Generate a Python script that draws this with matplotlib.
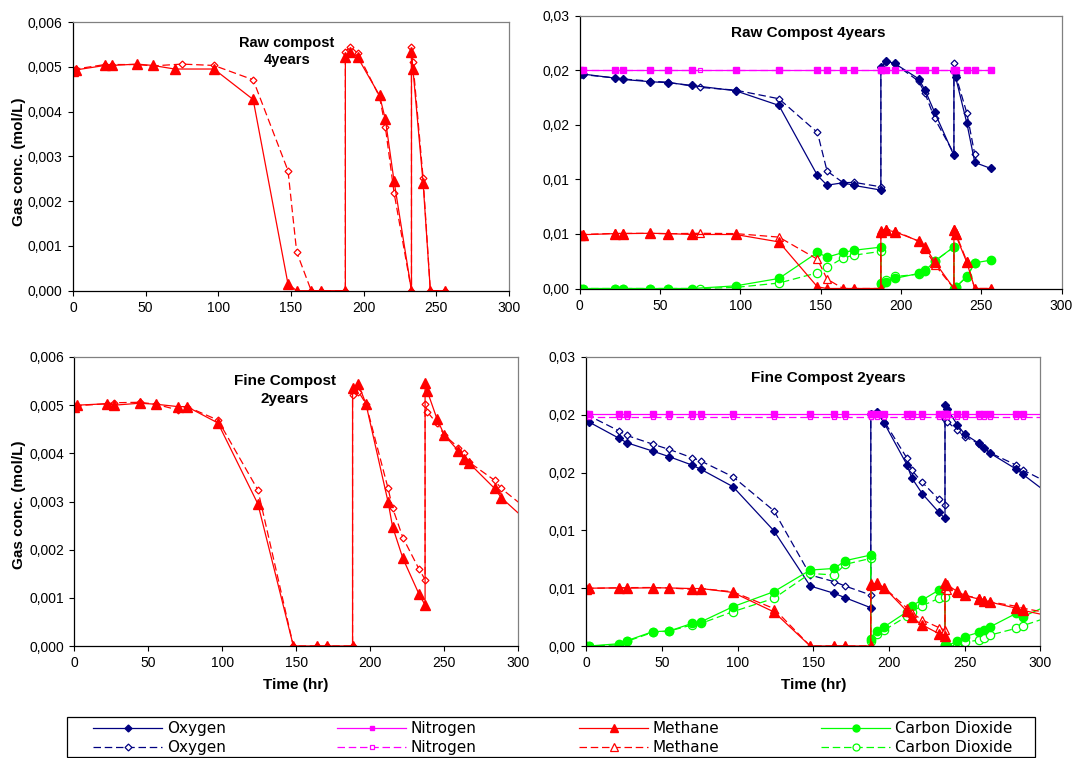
import numpy as np
import matplotlib
matplotlib.use("Agg")
import matplotlib.pyplot as plt
from matplotlib.lines import Line2D
from matplotlib.patches import Rectangle

plt.rcParams['font.family'] = ['Liberation Sans', 'DejaVu Sans']

# ---- raw compost 4 years (time in hr) ----
t_raw = [0, 2, 22, 27, 44, 55, 70, 97, 124, 148, 154, 164, 171, 187.5, 187.5,
         191, 196, 211, 215, 221, 233, 233, 234, 241, 246, 256]
t_raw2 = [0, 2, 22, 27, 44, 55, 75, 97, 124, 148, 154, 164, 171, 187.5, 187.5,
          191, 196, 211, 215, 221, 233, 233, 234, 241, 246, 256]

ch4_raw = [0.0049, 0.00493, 0.00503, 0.00503, 0.00506, 0.00503, 0.00495, 0.00495,
           0.00427, 0.00015, 0, 0, 0, 0, 0.00521, 0.00534, 0.00521, 0.00436,
           0.00383, 0.00245, 0, 0.00534, 0.00495, 0.00241, 0, 0]
ch4_raw2 = [0.00493, 0.00495, 0.00505, 0.00505, 0.00505, 0.00502, 0.00506, 0.00503,
            0.00471, 0.00268, 0.00086, 0, 0, 0, 0.00534, 0.00545, 0.0053, 0.00433,
            0.00366, 0.00219, 0, 0.00545, 0.0051, 0.00252, 0, 0]
o2_raw = [0.0199, 0.01965, 0.01928, 0.01916, 0.01895, 0.01886, 0.01861, 0.01812,
          0.01678, 0.01036, 0.00947, 0.00969, 0.00944, 0.00902, 0.02026, 0.02084,
          0.02063, 0.01922, 0.01818, 0.01614, 0.0122, 0.0199, 0.0194, 0.01519,
          0.01155, 0.011]
o2_raw2 = [0.0196, 0.0196, 0.0193, 0.0192, 0.019, 0.0189, 0.01843, 0.01818,
           0.01739, 0.0143, 0.01076, 0.0097, 0.00972, 0.00932, 0.0203, 0.0208,
           0.0206, 0.019, 0.01788, 0.01559, 0.01235, 0.0207, 0.0196, 0.0161,
           0.01229, np.nan]
n2_raw = [0.0200, 0.0200, 0.0200, 0.0200, 0.0200, 0.0200, 0.0200, 0.0200, 0.0200,
          0.0200, 0.0200, 0.0200, 0.0200, 0.0200, 0.0200, 0.0200, 0.0200, 0.0200,
          0.0200, 0.0200, 0.0200, 0.0200, 0.0200, 0.0200, 0.0200, 0.0200]
n2_raw2 = [0.0200, 0.0200, 0.0200, 0.0200, 0.0200, 0.0200, 0.0200, 0.0200, 0.0200,
           0.0200, 0.0200, 0.0200, 0.0200, 0.0200, 0.0200, 0.0200, 0.0200, 0.0200,
           0.0200, 0.0200, 0.0200, 0.0200, 0.0200, 0.0200, 0.0200, 0.0200]
co2_raw = [0, 0, 0, 0, 0, 0, 0, 0.00024, 0.00092, 0.0033, 0.00287, 0.0033, 0.00351,
           0.00379, 0.00037, 0.00061, 0.00092, 0.00138, 0.00162, 0.0025, 0.00382,
           0, 0.0001, 0.00107, 0.00235, 0.0026]
co2_raw2 = [0, 0, 0, 0, 0, 0, 0, 0.0001, 0.0005, 0.00144, 0.00193, 0.0028, 0.00306,
            0.0034, 0.0005, 0.0008, 0.0011, 0.0013, 0.0017, 0.0025, 0.0038, 0,
            0.0001, 0.0011, 0.0023, np.nan]

# ---- fine compost 2 years ----
t_fine = [0, 2, 22, 27, 44, 55, 70, 76, 97, 124, 148, 164, 171, 188, 188, 192, 197,
          212, 215, 222, 233, 237, 237, 238.5, 245, 250, 259.5, 263, 267, 284,
          288.5, 310]

ch4_fine = [0.00497, 0.005, 0.00503, 0.005, 0.00504, 0.00502, 0.00497, 0.00497,
            0.00463, 0.00295, 0, 0, 0, 0, 0.00535, 0.00543, 0.00503, 0.00299,
            0.00248, 0.00182, 0.00107, 0.00085, 0.00546, 0.00529, 0.00472, 0.00438,
            0.00405, 0.00389, 0.00379, 0.00327, 0.00308, 0.00248]
ch4_fine2 = [0.00497, 0.00499, 0.00503, 0.00505, 0.00506, 0.00502, 0.0049, 0.00497,
             0.00469, 0.00324, 0, 0, 0, 0, 0.00521, 0.00528, 0.00503, 0.00327,
             0.00287, 0.00225, 0.00159, 0.00138, 0.00503, 0.00486, 0.00462, 0.00438,
             0.00412, 0.004, 0.00381, 0.00344, 0.00327, 0.00274]
o2_fine = [0.01968, 0.01937, 0.01795, 0.01758, 0.01686, 0.01637, 0.01565, 0.01527,
           0.01378, 0.00997, 0.00519, 0.00455, 0.00418, 0.00331, 0.0201, 0.02026,
           0.01925, 0.01565, 0.01455, 0.01317, 0.01156, 0.01104, 0.02084, 0.02049,
           0.01916, 0.01833, 0.01752, 0.01709, 0.01666, 0.0153, 0.01484, 0.0127]
o2_fine2 = [0.02003, 0.01991, 0.01859, 0.01821, 0.01746, 0.017, 0.01628, 0.01599,
            0.01464, 0.0117, 0.00614, 0.00556, 0.00519, 0.00441, 0.02003, 0.0202,
            0.0194, 0.01622, 0.01522, 0.01415, 0.01268, 0.01219, 0.01963, 0.0194,
            0.01867, 0.0181, 0.0175, 0.0171, 0.0167, 0.01565, 0.01522, 0.0138]
n2_fine = [0.0201, 0.0201, 0.0201, 0.0201, 0.0201, 0.0201, 0.0201, 0.0201, 0.0201,
           0.0201, 0.0201, 0.0201, 0.0201, 0.0201, 0.0201, 0.0201, 0.0201, 0.0201,
           0.0201, 0.0201, 0.0201, 0.0201, 0.0201, 0.0201, 0.0201, 0.0201, 0.0201,
           0.0201, 0.0201, 0.0201, 0.0201, 0.0201]
n2_fine2 = [0.0198, 0.0198, 0.0198, 0.0198, 0.0198, 0.0198, 0.0198, 0.0198, 0.0198,
            0.0198, 0.0198, 0.0198, 0.0198, 0.0198, 0.0198, 0.0198, 0.0198, 0.0198,
            0.0198, 0.0198, 0.0198, 0.0198, 0.0198, 0.0198, 0.0198, 0.0198, 0.0198,
            0.0198, 0.0198, 0.0198, 0.0198, 0.0198]
co2_fine = [0, 0, 0.0002, 0.00046, 0.00124, 0.0013, 0.00196, 0.0021, 0.0034, 0.0047,
            0.00657, 0.00671, 0.00738, 0.00787, 0.0006, 0.0013, 0.00167, 0.00297,
            0.00349, 0.00398, 0.00484, 0.00499, 0.00009, 0, 0.00043, 0.00081,
            0.00118, 0.00138, 0.00167, 0.00282, 0.00254, 0.0038]
co2_fine2 = [0, 0, 0.0001, 0.0004, 0.00118, 0.0013, 0.00182, 0.00196, 0.00297,
             0.00412, 0.00628, 0.00614, 0.00706, 0.00758, 0.00046, 0.001, 0.00138,
             0.00259, 0.00297, 0.00349, 0.00412, 0.00427, 0.0001, 0, 0, 0.00032,
             0.00052, 0.00072, 0.00095, 0.00153, 0.00176, 0.0027]

left_ticks = [0, 0.001, 0.002, 0.003, 0.004, 0.005, 0.006]
left_labels = ['0,000', '0,001', '0,002', '0,003', '0,004', '0,005', '0,006']
right_ticks = [0, 0.005, 0.01, 0.015, 0.02, 0.025]
right_labels = ['0,00', '0,01', '0,01', '0,02', '0,02', '0,03']
x_ticks = [0, 50, 100, 150, 200, 250, 300]

NAVY = '#000080'
MAG = '#FF00FF'
RED = '#FF0000'
GRN = '#00FF00'
DASH = (0, (6, 3))
LW = 0.9

W, H = 1076, 758
fig = plt.figure(figsize=(W / 100, H / 100), dpi=100)


def add_ax(l, r, t, b):
    return fig.add_axes([l / W, 1 - b / H, (r - l) / W, (b - t) / H])


def style(ax, ticks, labels, ymax):
    ax.set_xlim(0, 300)
    ax.set_ylim(0, ymax)
    ax.set_xticks(x_ticks)
    ax.set_yticks(ticks)
    ax.set_yticklabels(labels)
    for s in ['top', 'right']:
        ax.spines[s].set_color('#808080')
    for s in ['left', 'bottom']:
        ax.spines[s].set_color('black')
    for s in ax.spines.values():
        s.set_linewidth(0.9)
    ax.tick_params(direction='out', length=3.5, width=0.8, labelsize=10, pad=4)


def methane(ax, t1, y1, t2, y2, open_tri):
    m2 = '^' if open_tri else 'D'
    ms2 = 6 if open_tri else 3.5
    ax.plot(t2, y2, color=RED, lw=LW, linestyle=DASH, marker=m2, ms=ms2,
            mfc='white', mec=RED, mew=0.9)
    ax.plot(t1, y1, color=RED, lw=LW, marker='^', ms=7.5, mfc=RED, mec=RED)


def gases(ax, t1, t2, o1, o2, n1, n2, c1, c2):
    ax.plot(t2, o2, color=NAVY, lw=LW, linestyle=DASH, marker='D', ms=3.5,
            mfc='white', mec=NAVY, mew=0.9)
    ax.plot(t1, o1, color=NAVY, lw=LW, marker='D', ms=4, mfc=NAVY, mec=NAVY)
    ax.plot(t2, n2, color=MAG, lw=LW, linestyle=DASH, marker='s', ms=3.5,
            mfc='white', mec=MAG, mew=0.9)
    ax.plot(t1, n1, color=MAG, lw=LW, marker='s', ms=4, mfc=MAG, mec=MAG)
    ax.plot(t2, c2, color=GRN, lw=LW, linestyle=DASH, marker='o', ms=6,
            mfc='white', mec=GRN, mew=0.9)
    ax.plot(t1, c1, color=GRN, lw=LW, marker='o', ms=6, mfc=GRN, mec=GRN)


# top-left
ax1 = add_ax(73, 508.8, 22, 290.7)
methane(ax1, t_raw, ch4_raw, t_raw2, ch4_raw2, False)
style(ax1, left_ticks, left_labels, 0.006)
ax1.text(0.491, 0.89, 'Raw compost\n4years', transform=ax1.transAxes,
         ha='center', va='center', fontsize=10.5, fontweight='bold', linespacing=1.3)

# top-right
ax2 = add_ax(579.8, 1061.5, 15.7, 288.5)
gases(ax2, t_raw, t_raw2, o2_raw, o2_raw2, n2_raw, n2_raw2, co2_raw, co2_raw2)
methane(ax2, t_raw, ch4_raw, t_raw2, ch4_raw2, True)
style(ax2, right_ticks, right_labels, 0.025)
ax2.text(0.4735, 0.935, 'Raw Compost 4years', transform=ax2.transAxes,
         ha='center', va='center', fontsize=11, fontweight='bold')

# bottom-left
ax3 = add_ax(74.4, 518.3, 357, 646)
methane(ax3, t_fine, ch4_fine, t_fine, ch4_fine2, False)
style(ax3, left_ticks, left_labels, 0.006)
ax3.text(0.474, 0.886, 'Fine Compost\n2years', transform=ax3.transAxes,
         ha='center', va='center', fontsize=11, fontweight='bold', linespacing=1.3)

# bottom-right
ax4 = add_ax(586.1, 1040.4, 357, 646)
gases(ax4, t_fine, t_fine, o2_fine, o2_fine2, n2_fine, n2_fine2, co2_fine, co2_fine2)
methane(ax4, t_fine, ch4_fine, t_fine, ch4_fine2, True)
style(ax4, right_ticks, right_labels, 0.025)
ax4.text(0.533, 0.928, 'Fine Compost 2years', transform=ax4.transAxes,
         ha='center', va='center', fontsize=11, fontweight='bold')

# axis titles
fig.text(19.3 / W, 1 - 161.7 / H, 'Gas conc. (mol/L)', rotation=90, ha='center',
         va='center', fontsize=11, fontweight='bold')
fig.text(19.3 / W, 1 - 505 / H, 'Gas conc. (mol/L)', rotation=90, ha='center',
         va='center', fontsize=11, fontweight='bold')
fig.text(295.8 / W, 1 - 685 / H, 'Time (hr)', ha='center', va='center',
         fontsize=11, fontweight='bold')
fig.text(813.8 / W, 1 - 685 / H, 'Time (hr)', ha='center', va='center',
         fontsize=11, fontweight='bold')

# legend: box + four columns
fig.patches.append(Rectangle((67 / W, 1 - 757 / H), (1035 - 67) / W, (757 - 717) / H,
                             transform=fig.transFigure, fill=False,
                             edgecolor='black', lw=0.9))
names = ['Oxygen', 'Nitrogen', 'Methane', 'Carbon Dioxide']
colors = [NAVY, MAG, RED, GRN]
markers = ['D', 's', '^', 'o']
msizes = [3.5, 3.5, 6, 5]
col_x = [91, 335, 577, 819]
for name, c, m, ms, x in zip(names, colors, markers, msizes, col_x):
    h1 = Line2D([], [], color=c, lw=LW, marker=m, ms=ms, mfc=c, mec=c)
    h2 = Line2D([], [], color=c, lw=LW, linestyle=DASH, marker=m, ms=ms,
                mfc='white', mec=c, mew=0.9)
    leg = fig.legend([h1, h2], [name, name], loc='upper left',
                     bbox_to_anchor=(x / W, 1 - 719 / H), frameon=False,
                     borderpad=0.15, borderaxespad=0, handlelength=4.5,
                     handletextpad=0.3, labelspacing=0.25,
                     prop={'family': 'DejaVu Sans', 'size': 11})

fig.savefig('out.png', dpi=100)
